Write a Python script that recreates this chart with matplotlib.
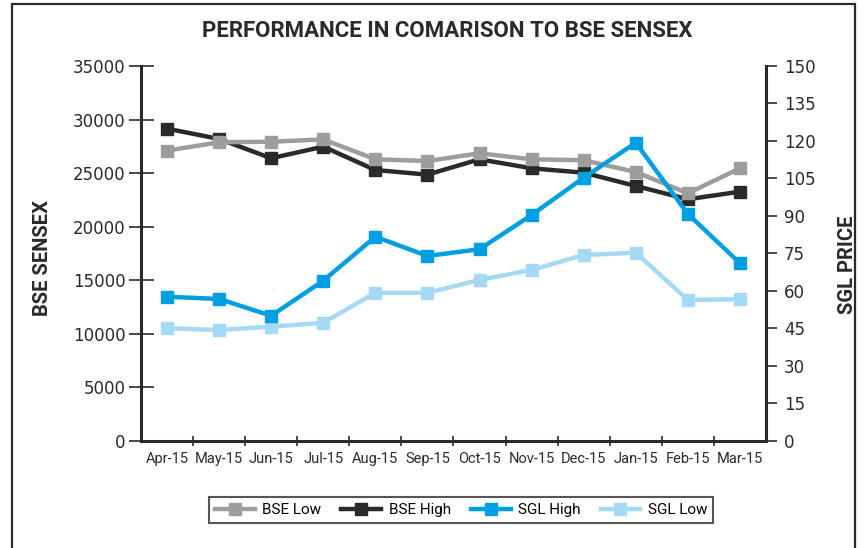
import matplotlib.pyplot as plt
import matplotlib.patches as mpatches
from matplotlib.ticker import FixedLocator, NullFormatter
from matplotlib import font_manager

months = ['Apr-15', 'May-15', 'Jun-15', 'Jul-15', 'Aug-15', 'Sep-15',
          'Oct-15', 'Nov-15', 'Dec-15', 'Jan-15', 'Feb-15', 'Mar-15']
bse_low = [27100, 27880, 27930, 28150, 26290, 26130,
           26850, 26290, 26200, 25110, 23120, 25450]
bse_high = [29150, 28190, 26390, 27470, 25290, 24860,
            26290, 25450, 25040, 23800, 22560, 23270]
sgl_high = [57.7, 56.8, 50.1, 64.1, 81.7, 74.0,
            76.7, 90.4, 105.3, 119.3, 90.8, 71.1]
sgl_low = [45.1, 44.4, 45.7, 47.3, 59.3, 59.3,
           64.4, 68.4, 74.4, 75.3, 56.4, 56.7]

# condensed face if the system has one, otherwise Roboto
names = {f.name for f in font_manager.fontManager.ttflist}
cond = 'DejaVu Sans Condensed' if 'DejaVu Sans Condensed' in names else 'Roboto'
plt.rcParams['font.family'] = [cond, 'DejaVu Sans']

fig = plt.figure(figsize=(8.67, 5.48), dpi=100)
ax = fig.add_axes([0.1626, 0.1953, 0.7209, 0.6843])
ax2 = ax.twinx()

x = list(range(len(months)))
kw = dict(lw=3.2, marker='s', ms=9)
l_bh, = ax.plot(x, bse_high, color='#2b2a29', zorder=3, label='BSE High', **kw)
l_bl, = ax.plot(x, bse_low, color='#9d9d9d', zorder=4, label='BSE Low', **kw)
l_sl, = ax2.plot(x, sgl_low, color='#a6d9f5', zorder=3, label='SGL Low', **kw)
l_sh, = ax2.plot(x, sgl_high, color='#009fe3', zorder=4, label='SGL High', **kw)
for l in (l_bh, l_bl, l_sl, l_sh):
    l.set_solid_joinstyle('round')

ax.set_xlim(-0.5, 11.5)
ax.set_ylim(0, 35000)
ax2.set_ylim(0, 150)
ax.set_yticks(range(0, 35001, 5000))
ax2.set_yticks(range(0, 151, 15))
ax.set_xticks(x)
ax.set_xticklabels(months, fontsize=10.5, color='#2b2a29')
ax.xaxis.set_minor_locator(FixedLocator([i + 0.5 for i in range(11)]))
ax.xaxis.set_minor_formatter(NullFormatter())
ax.tick_params(axis='x', which='major', length=0, pad=8)
ax.tick_params(axis='x', which='minor', length=7, direction='inout', width=1.2, color='#2b2a29')
ax.tick_params(axis='y', length=18, direction='inout', width=1.2, labelsize=12,
               color='#2b2a29', labelcolor='#2b2a29', pad=2)
ax2.tick_params(axis='y', length=8, direction='out', width=1.2, labelsize=12,
                color='#2b2a29', labelcolor='#2b2a29', pad=5)
for t in ax.get_yticklabels() + ax2.get_yticklabels():
    t.set_family('DejaVu Sans')

for a in (ax, ax2):
    a.spines['top'].set_visible(False)
    for s in ('left', 'right', 'bottom'):
        a.spines[s].set_linewidth(2.2)
        a.spines[s].set_color('#2b2a29')
ax2.spines['left'].set_visible(False)
ax2.spines['bottom'].set_visible(False)
ax.spines['right'].set_visible(False)

fig.text(0.049, 0.529, 'BSE SENSEX', rotation=90, ha='center', va='center',
         fontsize=14.5, fontweight='bold', color='#2b2a29')
fig.text(0.978, 0.516, 'SGL PRICE', rotation=90, ha='center', va='center',
         fontsize=14.5, fontweight='bold', color='#2b2a29')
fig.text(0.516, 0.943, 'PERFORMANCE IN COMARISON TO BSE SENSEX', ha='center',
         va='center', fontsize=16, fontweight='bold', color='#2b2a29')

leg = fig.legend(handles=[l_bl, l_bh, l_sh, l_sl], loc='center',
                 bbox_to_anchor=(0.532, 0.069), ncol=4, fontsize=11,
                 frameon=True, fancybox=False, edgecolor='#2b2a29',
                 handlelength=2.6, columnspacing=1.3, borderpad=0.4,
                 handletextpad=0.5)
leg.get_frame().set_linewidth(1.5)

frame = mpatches.Rectangle((12 / 867, -0.1), (855 - 12) / 867, 1.1 - 4 / 548,
                           transform=fig.transFigure, fill=False,
                           edgecolor='#2b2a29', lw=1.6)
fig.add_artist(frame)

fig.savefig('out.png', dpi=100)
